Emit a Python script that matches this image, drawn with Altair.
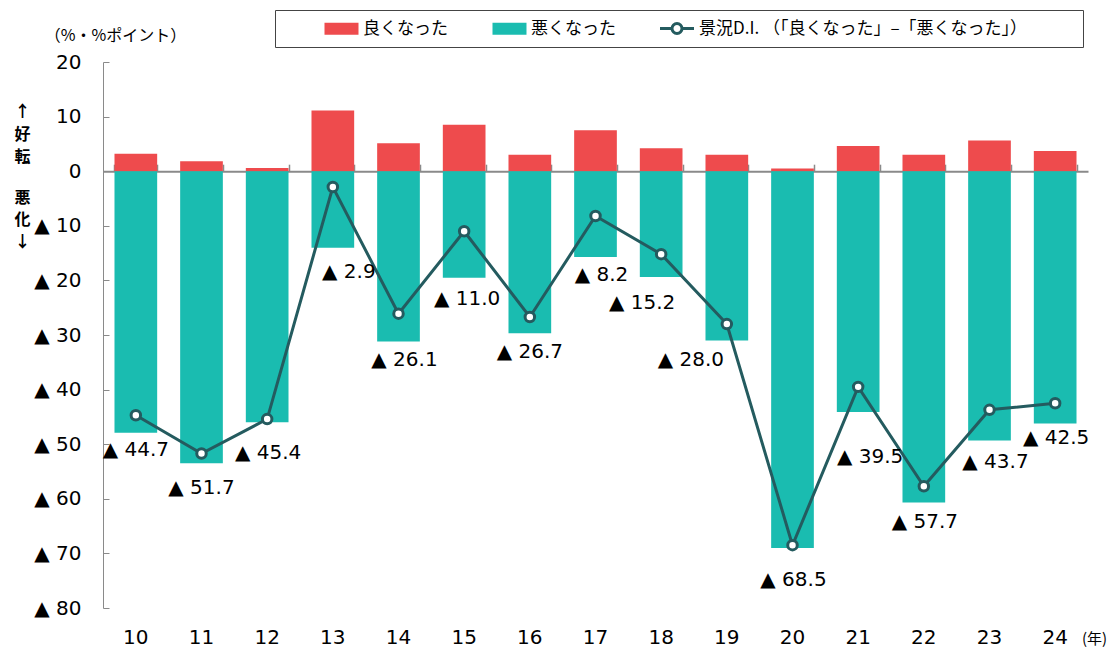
import altair as alt
import pandas as pd

# ---- data ----
years = ["10", "11", "12", "13", "14", "15", "16", "17", "18", "19", "20", "21", "22", "23", "24"]
good = [3.2, 1.8, 0.6, 11.1, 5.1, 8.5, 3.0, 7.5, 4.2, 3.0, 0.5, 4.6, 3.0, 5.6, 3.7]
bad = [47.9, 53.5, 46.0, 14.0, 31.2, 19.5, 29.7, 15.7, 19.4, 31.0, 69.0, 44.1, 60.7, 49.3, 46.2]
di = [-44.7, -51.7, -45.4, -2.9, -26.1, -11.0, -26.7, -8.2, -15.2, -28.0, -68.5, -39.5, -57.7, -43.7, -42.5]
# where each D.I. value label sits (value units) and its horizontal nudge (px)
label_y = [-51.1, -58.1, -51.6, -18.5, -34.6, -23.4, -33.2, -19.0, -24.1, -34.6, -74.9, -52.4, -64.2, -53.3, -48.9]
label_dx = [0, 0, 1, 16, 6, 3, 0, 6, -19, -36, 1, 12, 1, 6, 1]
y_ticks = [-80, -70, -60, -50, -40, -30, -20, -10, 0, 10, 20]

S_GOOD = "良くなった"
S_BAD = "悪くなった"
S_DI = "景況D.I. （「良くなった」–「悪くなった」）"

RED = "#EE4B4D"
TEAL = "#1ABCB0"
DARK = "#245B5F"
GRAY = "#8A8A8A"
JP = "Noto Sans CJK JP"
NUM = "DejaVu Sans"

W, H = 985, 546
HALF_BAND = 0.65 * (W / len(years)) / 2

bars_df = pd.DataFrame({
    "year": years * 2,
    "series": [S_GOOD] * len(years) + [S_BAD] * len(years),
    "value": good + [-b for b in bad],
})
di_df = pd.DataFrame({"year": years, "di": di, "s": S_DI, "ly": label_y, "ldx": label_dx})
di_df["label"] = ["▲ " + f"{abs(v):.1f}" for v in di]

xs = alt.Scale(paddingInner=0.35, paddingOuter=0.175)
ys = alt.Scale(domain=[-80, 20], nice=False, zero=False)

x_bottom_axis = alt.Axis(
    orient="bottom", domain=False, ticks=False, grid=False, labelAngle=0, labelPadding=19,
    labelFont=NUM, labelFontSize=20, labelColor="black",
    title="(年)", titleX=991, titleY=30, titleAlign="center", titleBaseline="middle",
    titleFont=JP, titleFontSize=15, titleFontWeight="normal", titleColor="black",
)
x_top_axis = alt.Axis(
    orient="top", offset=-109.2, labels=False, grid=False, tickBand="extent",
    domainColor=GRAY, domainWidth=2, tickColor=GRAY, tickWidth=1.5, tickSize=7,
    title=["悪", "化", "↓"], titleAngle=0, titleX=-81, titleY=17.8,
    titleAlign="center", titleBaseline="top", titleFont=JP, titleFontSize=16,
    titleFontWeight="bold", titleLineHeight=22, titleColor="black",
)
y_left_axis = alt.Axis(
    orient="left", values=y_ticks, domain=False, ticks=False, grid=False, labelPadding=22,
    labelExpr="datum.value < 0 ? '▲ ' + (-datum.value) : datum.label",
    labelFont=NUM, labelFontSize=20, labelColor="black",
    title="（%・%ポイント）", titleAngle=0, titleX=12, titleY=-27, titleAlign="center",
    titleBaseline="middle", titleFont=JP, titleFontSize=16, titleFontWeight="normal", titleColor="black",
)
y_right_axis = alt.Axis(
    orient="right", offset=-W, values=y_ticks, labels=False, grid=False,
    domainColor=GRAY, tickColor=GRAY, tickSize=6,
    title=["↑", "好", "転"], titleAngle=0, titleX=-81, titleY=41.5,
    titleAlign="center", titleBaseline="top", titleFont=JP, titleFontSize=16,
    titleFontWeight="bold", titleLineHeight=22.5, titleColor="black",
)

legend_main = alt.Legend(
    orient="none", legendX=172, legendY=-52, direction="horizontal",
    title=".", titleOrient="right", titleFontSize=16, titleFont=JP, titleColor="white", titlePadding=40,
    symbolType="M-2.833,-1H2.833V1H-2.833Z", symbolSize=144, symbolStrokeWidth=0,
    symbolOffset=48, labelOffset=13, columnPadding=5, padding=10,
    strokeColor="#444444",
    labelFont=JP, labelFontSize=17, labelColor="black", labelLimit=800,
)
legend_di_symbol = alt.Legend(
    orient="none", legendX=556, legendY=-41.5, title=None,
    symbolType="M-2.833,0H-0.833M0.833,0H2.833M0.833,0A0.833,0.833 0 1,1 -0.833,0A0.833,0.833 0 1,1 0.833,0",
    symbolSize=144, symbolStrokeWidth=3, symbolFillColor="white", symbolOffset=10,
    labelExpr="''", labelOffset=0, padding=0, labelFontSize=16,
)

bars = alt.Chart(bars_df).mark_bar().encode(
    x=alt.X("year:N", sort=years, scale=xs, axis=x_bottom_axis),
    y=alt.Y("value:Q", scale=ys, axis=y_left_axis, stack=None),
    fill=alt.Fill(
        "series:N",
        scale=alt.Scale(domain=[S_GOOD, S_BAD, S_DI], range=[RED, TEAL, "transparent"]),
        legend=legend_main,
    ),
)

line = alt.Chart(di_df).mark_line(strokeWidth=3).encode(
    x=alt.X("year:N", sort=years, scale=xs, axis=x_top_axis),
    y=alt.Y("di:Q", scale=ys, axis=y_right_axis),
    stroke=alt.Stroke("s:N", scale=alt.Scale(domain=[S_DI], range=[DARK]), legend=legend_di_symbol),
)

points = alt.Chart(di_df).mark_point(
    shape="circle", filled=True, fill="white", stroke=DARK, strokeWidth=3, size=90, opacity=1
).encode(
    x=alt.X("year:N", sort=years, scale=xs, axis=None),
    y=alt.Y("di:Q", scale=ys, axis=None),
)

labels = alt.Chart(di_df).transform_calculate(
    lx=f"datum.ldx + {HALF_BAND}"
).mark_text(font=NUM, fontSize=20, color="black", baseline="middle").encode(
    x=alt.X("year:N", sort=years, scale=xs, axis=None),
    y=alt.Y("ly:Q", scale=ys, axis=None),
    xOffset=alt.XOffset("lx:Q", scale=None),
    text="label:N",
)

chart = alt.layer(bars, line, points, labels).resolve_axis(x="independent", y="independent").properties(
    width=W, height=H, autosize=alt.AutoSizeParams(type="none"),
    padding={"left": 103, "top": 62, "right": 27, "bottom": 42},
    background="white",
).configure_view(stroke=None)

chart.save("out.html", embed_options={"renderer": "svg", "actions": False})
